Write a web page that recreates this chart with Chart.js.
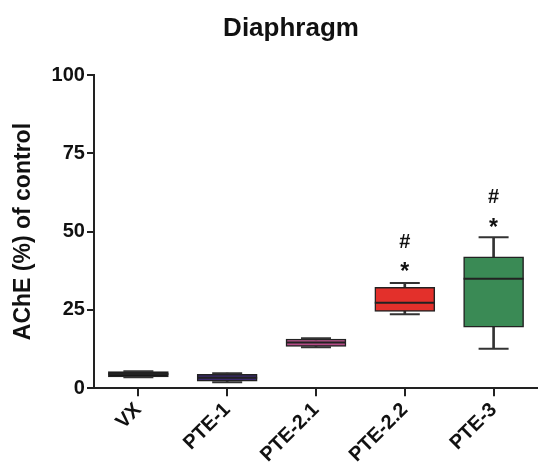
<head>
    <script src="https://cdn.jsdelivr.net/npm/chart.js@4.4.0/dist/chart.umd.min.js"></script>
    <style>
        body { margin: 0; background: #fff; }
        #wrap { width: 538px; height: 474px; }
    </style>
</head>

<body>
    <div id="wrap"><canvas id="myChart" width="538" height="474"></canvas></div>

    <script>
        // box plot values
        const categories = ['VX', 'PTE-1', 'PTE-2.1', 'PTE-2.2', 'PTE-3'];
        const mins    = [3.5, 1.9, 13.1, 23.6, 12.6];
        const q1s     = [3.6, 2.2, 13.3, 24.5, 19.5];
        const medians = [4.5, 3.3, 14.6, 27.3, 34.9];
        const q3s     = [5.3, 4.4, 15.7, 32.2, 41.9];
        const maxs    = [5.4, 4.8, 15.9, 33.6, 48.2];
        const boxColors = ['#151515', '#3b2a6e', '#b44c86', '#e3302b', '#3a8a55'];
        // significance marks (y position in data units)
        const hashY = [null, null, null, 46.5, 61];
        const starY = [null, null, null, 38.5, 52.5];
        const yTicks = [0, 25, 50, 75, 100];

        const edge = '#222222';
        const FONT = '"Liberation Sans", Arial, sans-serif';

        const marks = {
            id: 'marks',
            afterDraw(chart) {
                const ctx = chart.ctx;
                const x = chart.scales.x, y = chart.scales.y;
                ctx.save();
                ctx.fillStyle = '#111';
                ctx.textAlign = 'center';
                ctx.textBaseline = 'alphabetic';
                ctx.font = 'bold 26px ' + FONT;
                ctx.fillText('Diaphragm', 291, 36);
                ctx.textBaseline = 'middle';
                ctx.font = 'bold 20px ' + FONT;
                categories.forEach(function (c, i) {
                    if (hashY[i] != null) ctx.fillText('#', x.getPixelForValue(i), y.getPixelForValue(hashY[i]));
                    if (starY[i] != null) {
                        ctx.font = 'bold 23px ' + FONT;
                        ctx.fillText('*', x.getPixelForValue(i), y.getPixelForValue(starY[i]) + 5);
                        ctx.font = 'bold 20px ' + FONT;
                    }
                });
                ctx.restore();
            }
        };

        const data = {
            labels: categories,
            datasets: [
                {
                    type: 'bar',
                    label: 'box',
                    data: categories.map(function (c, i) { return [q1s[i], q3s[i]]; }),
                    backgroundColor: boxColors,
                    borderColor: edge,
                    borderWidth: 1.5,
                    borderSkipped: false,
                    barThickness: 60,
                    grouped: false,
                    order: 2
                },
                {
                    type: 'bar',
                    label: 'whisker',
                    data: categories.map(function (c, i) { return [mins[i], maxs[i]]; }),
                    backgroundColor: '#333',
                    borderWidth: 0,
                    barThickness: 2,
                    grouped: false,
                    order: 3
                },
                {
                    type: 'line',
                    label: 'median',
                    data: medians,
                    showLine: false,
                    pointStyle: 'line',
                    pointRadius: 30,
                    pointBorderWidth: 2,
                    pointBorderColor: edge,
                    order: 1
                },
                {
                    type: 'line',
                    label: 'max',
                    data: maxs,
                    showLine: false,
                    pointStyle: 'line',
                    pointRadius: 15,
                    pointBorderWidth: 2,
                    pointBorderColor: '#333',
                    order: 1
                },
                {
                    type: 'line',
                    label: 'min',
                    data: mins,
                    showLine: false,
                    pointStyle: 'line',
                    pointRadius: 15,
                    pointBorderWidth: 2,
                    pointBorderColor: '#333',
                    order: 1
                }
            ]
        };

        const config = {
            data: data,
            options: {
                responsive: false,
                animation: false,
                layout: { autoPadding: false, padding: { top: 75, right: 0, left: 10, bottom: 5 } },
                plugins: {
                    legend: { display: false },
                    tooltip: { enabled: false },
                    title: { display: false }
                },
                scales: {
                    x: {
                        type: 'category',
                        offset: true,
                        afterFit: function (axis) {
                            axis.paddingRight = 0;
                        },
                        grid: {
                            offset: false,
                            drawOnChartArea: false,
                            drawTicks: true,
                            tickLength: 8,
                            lineWidth: 2,
                            color: edge
                        },
                        border: { display: true, color: edge, width: 2 },
                        ticks: {
                            color: '#111',
                            minRotation: 45,
                            maxRotation: 45,
                            padding: 2,
                            font: { family: FONT, size: 20, weight: 'bold' }
                        }
                    },
                    y: {
                        min: 0,
                        max: 100,
                        afterBuildTicks: function (axis) {
                            axis.ticks = yTicks.map(function (v) { return { value: v }; });
                        },
                        grid: {
                            drawOnChartArea: false,
                            drawTicks: true,
                            tickLength: 7,
                            lineWidth: 2,
                            color: edge
                        },
                        border: { display: true, color: edge, width: 2 },
                        ticks: {
                            color: '#111',
                            padding: 2,
                            font: { family: FONT, size: 20, weight: 'bold' }
                        },
                        title: {
                            display: true,
                            text: 'AChE (%) of control',
                            color: '#111',
                            padding: { top: 0, bottom: 12 },
                            font: { family: FONT, size: 23, weight: 'bold' }
                        }
                    }
                }
            },
            plugins: [marks]
        };

        var chart = new Chart(document.getElementById('myChart'), config);
    </script>
</body>
